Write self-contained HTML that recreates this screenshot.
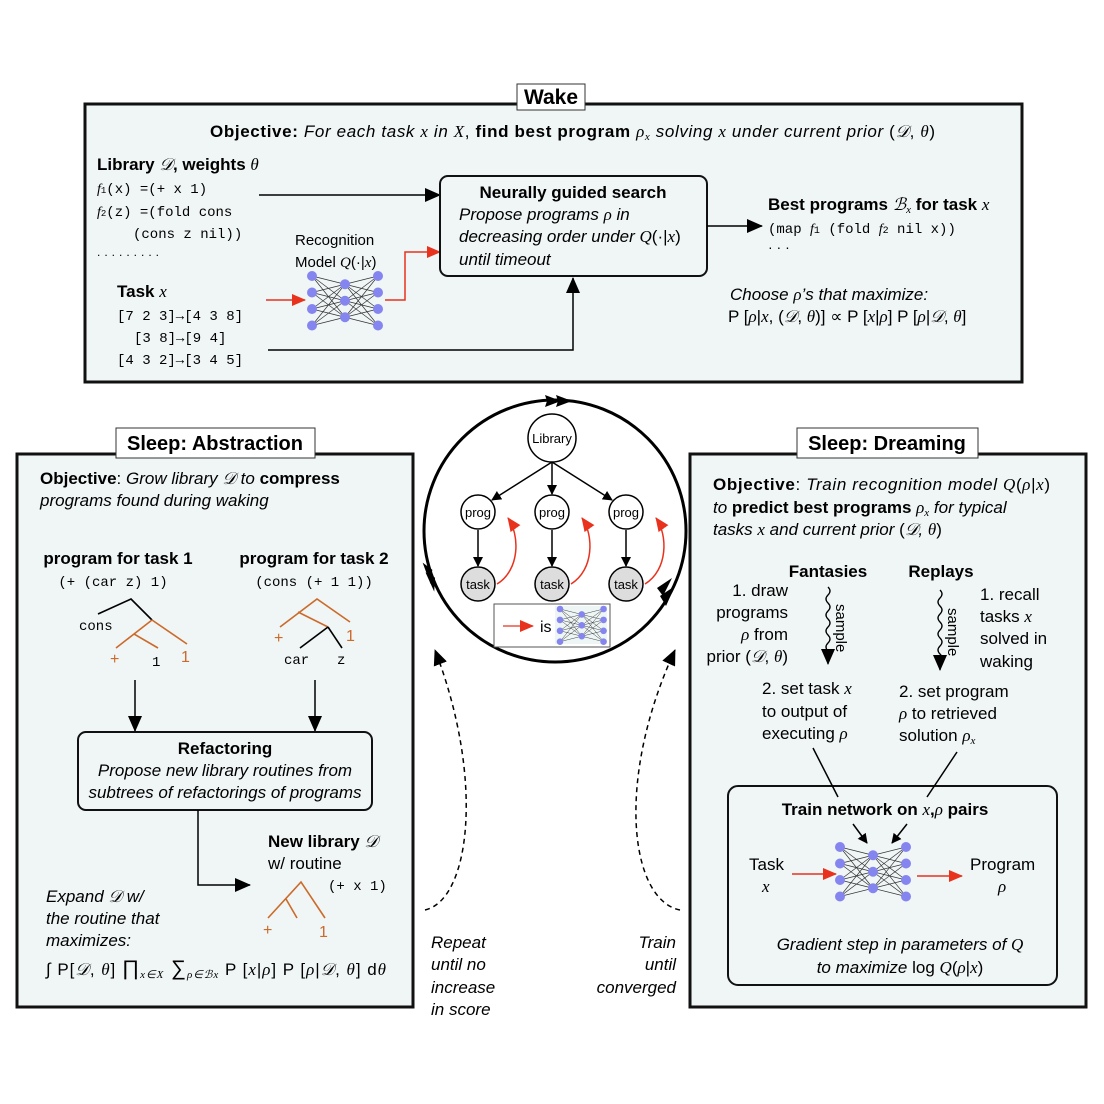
<!DOCTYPE html>
<html><head><meta charset="utf-8"><style>
html,body{margin:0;padding:0;background:#fff;}
svg{display:block;font-family:"Liberation Sans","DejaVu Sans",sans-serif;}
.m{font-family:"Liberation Mono",monospace;font-size:14px;}
.b{font-weight:bold;}
.i{font-style:italic;}
.s{font-family:"Liberation Serif",serif;font-style:italic;}
.o{fill:#cc6a2a;}
</style></head><body>
<svg width="1104" height="1104" viewBox="0 0 1104 1104" xmlns="http://www.w3.org/2000/svg">
<defs>
<marker id="ah" markerWidth="10" markerHeight="10" refX="9" refY="5" orient="auto" markerUnits="userSpaceOnUse"><path d="M0,0 L10,5 L0,10 z" fill="#000"/></marker>
<marker id="ahb" markerWidth="16" markerHeight="14" refX="15" refY="7" orient="auto" markerUnits="userSpaceOnUse"><path d="M0,0 L16,7 L0,14 z" fill="#000"/></marker>
<marker id="ar" markerWidth="14" markerHeight="12" refX="13" refY="6" orient="auto" markerUnits="userSpaceOnUse"><path d="M0,0 L14,6 L0,12 z" fill="#e8321e"/></marker>
<g id="nn">
<g stroke="#333" stroke-width="0.7">
<line x1="0" y1="0" x2="33" y2="8.25"/><line x1="0" y1="0" x2="33" y2="24.75"/><line x1="0" y1="0" x2="33" y2="41.25"/>
<line x1="0" y1="16.5" x2="33" y2="8.25"/><line x1="0" y1="16.5" x2="33" y2="24.75"/><line x1="0" y1="16.5" x2="33" y2="41.25"/>
<line x1="0" y1="33" x2="33" y2="8.25"/><line x1="0" y1="33" x2="33" y2="24.75"/><line x1="0" y1="33" x2="33" y2="41.25"/>
<line x1="0" y1="49.5" x2="33" y2="8.25"/><line x1="0" y1="49.5" x2="33" y2="24.75"/><line x1="0" y1="49.5" x2="33" y2="41.25"/>
<line x1="66" y1="0" x2="33" y2="8.25"/><line x1="66" y1="0" x2="33" y2="24.75"/><line x1="66" y1="0" x2="33" y2="41.25"/>
<line x1="66" y1="16.5" x2="33" y2="8.25"/><line x1="66" y1="16.5" x2="33" y2="24.75"/><line x1="66" y1="16.5" x2="33" y2="41.25"/>
<line x1="66" y1="33" x2="33" y2="8.25"/><line x1="66" y1="33" x2="33" y2="24.75"/><line x1="66" y1="33" x2="33" y2="41.25"/>
<line x1="66" y1="49.5" x2="33" y2="8.25"/><line x1="66" y1="49.5" x2="33" y2="24.75"/><line x1="66" y1="49.5" x2="33" y2="41.25"/>
</g>
<g fill="#8585f0">
<circle cx="0" cy="0" r="5"/><circle cx="0" cy="16.5" r="5"/><circle cx="0" cy="33" r="5"/><circle cx="0" cy="49.5" r="5"/>
<circle cx="33" cy="8.25" r="5"/><circle cx="33" cy="24.75" r="5"/><circle cx="33" cy="41.25" r="5"/>
<circle cx="66" cy="0" r="5"/><circle cx="66" cy="16.5" r="5"/><circle cx="66" cy="33" r="5"/><circle cx="66" cy="49.5" r="5"/>
</g>
</g>
</defs>

<rect x="85" y="104" width="937" height="278" fill="#f0f5f5" stroke="#111" stroke-width="3"/>
<rect x="17" y="454" width="396" height="553" fill="#f0f5f5" stroke="#111" stroke-width="3"/>
<rect x="690" y="454" width="396" height="553" fill="#f0f5f5" stroke="#111" stroke-width="3"/>

<rect x="517" y="84" width="68" height="26" fill="#fff" stroke="#333" stroke-width="1"/>
<text x="551" y="104" font-size="21" class="b" text-anchor="middle">Wake</text>
<rect x="116" y="428" width="199" height="30" fill="#fff" stroke="#333" stroke-width="1"/>
<text x="215" y="450" font-size="20" class="b" text-anchor="middle">Sleep:  Abstraction</text>
<rect x="797" y="428" width="181" height="30" fill="#fff" stroke="#333" stroke-width="1"/>
<text x="887" y="450" font-size="20" class="b" text-anchor="middle">Sleep:  Dreaming</text>

<!-- WAKE -->
<text x="210" y="137" font-size="17" textLength="725" lengthAdjust="spacing"><tspan class="b">Objective:</tspan><tspan class="i"> For each task </tspan><tspan class="s">x</tspan><tspan class="i"> in </tspan><tspan class="s">X</tspan>, <tspan class="b">find best program</tspan> <tspan class="s">ρ</tspan><tspan class="s" font-size="11" dy="3">x</tspan><tspan dy="-3" class="i"> solving </tspan><tspan class="s">x</tspan><tspan class="i"> under current prior </tspan>(<tspan class="s">𝒟</tspan>, <tspan class="s">θ</tspan>)</text>
<text x="97" y="170" font-size="17"><tspan class="b">Library </tspan><tspan class="s">𝒟</tspan><tspan class="b">, weights </tspan><tspan class="s">θ</tspan></text>
<text x="97" y="193" class="m"><tspan class="s">f</tspan><tspan font-size="9">1</tspan>(x) =(+ x 1)</text>
<text x="97" y="216" class="m"><tspan class="s">f</tspan><tspan font-size="9">2</tspan>(z) =(fold cons</text>
<text x="133" y="238" class="m">(cons z nil))</text>
<text x="97" y="256" font-size="12" letter-spacing="4">.........</text>
<text x="117" y="297" font-size="17"><tspan class="b">Task </tspan><tspan class="s">x</tspan></text>
<text x="117" y="320" class="m">[7 2 3]→[4 3 8]</text>
<text x="134" y="342" class="m">[3 8]→[9 4]</text>
<text x="117" y="364" class="m">[4 3 2]→[3 4 5]</text>
<text x="295" y="245" font-size="15">Recognition</text>
<text x="295" y="267" font-size="15">Model <tspan class="s">Q</tspan>(·|<tspan class="s">x</tspan>)</text>
<use href="#nn" x="312" y="276"/>
<line x1="259" y1="195" x2="440" y2="195" stroke="#000" stroke-width="1.5" marker-end="url(#ahb)"/>
<line x1="266" y1="300" x2="305" y2="300" stroke="#e8321e" stroke-width="1.5" marker-end="url(#ar)"/>
<polyline points="385,300 405,300 405,252 440,252" fill="none" stroke="#e8321e" stroke-width="1.5" marker-end="url(#ar)"/>
<polyline points="268,350 573,350 573,278" fill="none" stroke="#000" stroke-width="1.5" marker-end="url(#ahb)"/>
<rect x="440" y="176" width="267" height="100" rx="8" fill="#f0f5f5" stroke="#111" stroke-width="2"/>
<text x="573" y="198" font-size="17" class="b" text-anchor="middle">Neurally guided search</text>
<text x="459" y="220" font-size="17" class="i">Propose programs <tspan class="s">ρ</tspan> in</text>
<text x="459" y="242" font-size="17" class="i">decreasing order under <tspan class="s">Q</tspan><tspan font-style="normal">(·|</tspan><tspan class="s">x</tspan><tspan font-style="normal">)</tspan></text>
<text x="459" y="265" font-size="17" class="i">until timeout</text>
<line x1="707" y1="226" x2="762" y2="226" stroke="#000" stroke-width="1.5" marker-end="url(#ahb)"/>
<text x="768" y="210" font-size="17"><tspan class="b">Best programs </tspan><tspan class="s">ℬ</tspan><tspan class="s" font-size="11" dy="3">x</tspan><tspan dy="-3" class="b"> for task </tspan><tspan class="s">x</tspan></text>
<text x="768" y="233" class="m" font-size="16">(map <tspan class="s">f</tspan><tspan font-size="10">1</tspan> (fold <tspan class="s">f</tspan><tspan font-size="10">2</tspan> nil x))</text>
<text x="768" y="252" font-size="14">· · ·</text>
<text x="730" y="300" font-size="17" class="i">Choose <tspan class="s">ρ</tspan>’s that maximize:</text>
<text x="728" y="322" font-size="17">P [<tspan class="s">ρ</tspan>|<tspan class="s">x</tspan>, (<tspan class="s">𝒟</tspan>, <tspan class="s">θ</tspan>)] ∝ P [<tspan class="s">x</tspan>|<tspan class="s">ρ</tspan>] P [<tspan class="s">ρ</tspan>|<tspan class="s">𝒟</tspan>, <tspan class="s">θ</tspan>]</text>

<!-- ABSTRACTION -->
<text x="40" y="484" font-size="17"><tspan class="b">Objective</tspan>: <tspan class="i">Grow library </tspan><tspan class="s">𝒟</tspan><tspan class="i"> to </tspan><tspan class="b">compress</tspan></text>
<text x="40" y="506" font-size="17" class="i">programs found during waking</text>
<text x="118" y="564" font-size="17" class="b" text-anchor="middle">program for task 1</text>
<text x="113" y="586" class="m" font-size="16" text-anchor="middle">(+ (car z) 1)</text>
<text x="314" y="564" font-size="17" class="b" text-anchor="middle">program for task 2</text>
<text x="314" y="586" class="m" font-size="16" text-anchor="middle">(cons (+ 1 1))</text>
<g stroke-width="1.6" fill="none">
<polyline points="98,614 131,599 152,620" stroke="#000"/>
<line x1="152" y1="620" x2="187" y2="644" stroke="#cc6a2a"/>
<line x1="152" y1="620" x2="116" y2="648" stroke="#cc6a2a"/>
<line x1="134" y1="634" x2="158" y2="648" stroke="#cc6a2a"/>
<polyline points="280,627 317,599 350,622" stroke="#cc6a2a"/>
<line x1="298" y1="612" x2="328" y2="627" stroke="#cc6a2a"/>
<line x1="328" y1="627" x2="300" y2="648" stroke="#000"/>
<line x1="328" y1="627" x2="342" y2="648" stroke="#000"/>
<polyline points="268,918 301,882 325,918" stroke="#cc6a2a"/>
<line x1="286" y1="899" x2="297" y2="918" stroke="#cc6a2a"/>
</g>
<text x="79" y="630" class="m" font-size="16">cons</text>
<text x="110" y="664" font-size="16" class="o">+</text>
<text x="152" y="666" class="m" font-size="16">1</text>
<text x="181" y="662" font-size="16" class="o">1</text>
<text x="274" y="643" font-size="16" class="o">+</text>
<text x="346" y="641" font-size="16" class="o">1</text>
<text x="284" y="664" class="m" font-size="16">car</text>
<text x="337" y="664" class="m" font-size="16">z</text>
<line x1="135" y1="680" x2="135" y2="731" stroke="#000" stroke-width="1.5" marker-end="url(#ahb)"/>
<line x1="315" y1="680" x2="315" y2="731" stroke="#000" stroke-width="1.5" marker-end="url(#ahb)"/>
<rect x="78" y="732" width="294" height="78" rx="8" fill="#f0f5f5" stroke="#111" stroke-width="2"/>
<text x="225" y="754" font-size="17" class="b" text-anchor="middle">Refactoring</text>
<text x="225" y="776" font-size="17" class="i" text-anchor="middle">Propose new library routines from</text>
<text x="225" y="798" font-size="17" class="i" text-anchor="middle">subtrees of refactorings of programs</text>
<polyline points="198,810 198,885 250,885" fill="none" stroke="#000" stroke-width="1.5" marker-end="url(#ahb)"/>
<text x="268" y="847" font-size="17"><tspan class="b">New library </tspan><tspan class="s">𝒟</tspan></text>
<text x="268" y="869" font-size="17">w/ routine</text>
<text x="328" y="890" class="m" font-size="15">(+ x 1)</text>
<text x="263" y="935" font-size="16" class="o">+</text>
<text x="319" y="937" font-size="16" class="o">1</text>
<text x="46" y="902" font-size="17" class="i">Expand <tspan class="s">𝒟</tspan> w/</text>
<text x="46" y="924" font-size="17" class="i">the routine that</text>
<text x="46" y="946" font-size="17" class="i">maximizes:</text>
<text x="46" y="975" font-size="17" textLength="340" lengthAdjust="spacing">∫ P[<tspan class="s">𝒟</tspan>, <tspan class="s">θ</tspan>] <tspan font-size="21">∏</tspan><tspan class="s" font-size="11" dy="3">x∈X</tspan><tspan dy="-3" font-size="21"> ∑</tspan><tspan class="s" font-size="11" dy="3">ρ∈ℬx</tspan><tspan dy="-3"> P [</tspan><tspan class="s">x</tspan>|<tspan class="s">ρ</tspan>] P [<tspan class="s">ρ</tspan>|<tspan class="s">𝒟</tspan>, <tspan class="s">θ</tspan>]  d<tspan class="s">θ</tspan></text>

<!-- CENTER -->
<circle cx="555" cy="531" r="131" fill="#fff" stroke="#000" stroke-width="3"/>
<path d="M572,401 L556,395 L558,401 L556,407 z M561,401 L545,395 L547,401 L545,407 z" fill="#000"/>
<path d="M424,562 L430,584 L433,570 z M426,572 L433,592 L435,578 z" fill="#000" transform="rotate(-5 430 578)"/>
<path d="M666,606 L675,586 L660,596 z M663,596 L672,578 L657,588 z" fill="#000"/>
<circle cx="552" cy="438" r="24" fill="#fff" stroke="#000" stroke-width="1.5"/>
<text x="552" y="443" font-size="13" text-anchor="middle">Library</text>
<g stroke="#000" stroke-width="1.5">
<line x1="552" y1="462" x2="492" y2="500" marker-end="url(#ah)"/>
<line x1="552" y1="462" x2="552" y2="494" marker-end="url(#ah)"/>
<line x1="552" y1="462" x2="612" y2="500" marker-end="url(#ah)"/>
<line x1="478" y1="530" x2="478" y2="566" marker-end="url(#ah)"/>
<line x1="552" y1="530" x2="552" y2="566" marker-end="url(#ah)"/>
<line x1="626" y1="530" x2="626" y2="566" marker-end="url(#ah)"/>
</g>
<g font-size="13" text-anchor="middle">
<circle cx="478" cy="512" r="17" fill="#fff" stroke="#000" stroke-width="1.5"/><text x="478" y="517">prog</text>
<circle cx="552" cy="512" r="17" fill="#fff" stroke="#000" stroke-width="1.5"/><text x="552" y="517">prog</text>
<circle cx="626" cy="512" r="17" fill="#fff" stroke="#000" stroke-width="1.5"/><text x="626" y="517">prog</text>
<circle cx="478" cy="584" r="17" fill="#ddd" stroke="#000" stroke-width="1.5"/><text x="478" y="589">task</text>
<circle cx="552" cy="584" r="17" fill="#ddd" stroke="#000" stroke-width="1.5"/><text x="552" y="589">task</text>
<circle cx="626" cy="584" r="17" fill="#ddd" stroke="#000" stroke-width="1.5"/><text x="626" y="589">task</text>
</g>
<g fill="none" stroke="#e8321e" stroke-width="1.5">
<path d="M497,584 C520,570 520,535 508,518" marker-end="url(#ar)"/>
<path d="M571,584 C594,570 594,535 582,518" marker-end="url(#ar)"/>
<path d="M645,584 C668,570 668,535 656,518" marker-end="url(#ar)"/>
</g>
<rect x="494" y="604" width="116" height="43" fill="#fff" stroke="#555" stroke-width="1"/>
<rect x="555" y="606" width="52" height="38" fill="#eef5f5"/>
<line x1="503" y1="626" x2="533" y2="626" stroke="#e8321e" stroke-width="1.2" marker-end="url(#ar)"/>
<text x="540" y="632" font-size="16">is</text>
<use href="#nn" transform="translate(560,609) scale(0.66)"/>

<path d="M425,910 C470,900 485,780 435,650" fill="none" stroke="#000" stroke-width="1.5" stroke-dasharray="5,4" marker-end="url(#ahb)"/>
<path d="M680,910 C630,900 615,780 675,650" fill="none" stroke="#000" stroke-width="1.5" stroke-dasharray="5,4" marker-end="url(#ahb)"/>
<g font-size="17" class="i">
<text x="431" y="948">Repeat</text><text x="431" y="970">until no</text><text x="431" y="993">increase</text><text x="431" y="1015">in score</text>
<text x="676" y="948" text-anchor="end">Train</text><text x="676" y="970" text-anchor="end">until</text><text x="676" y="993" text-anchor="end">converged</text>
</g>

<!-- DREAMING -->
<text x="713" y="490" font-size="17" textLength="337" lengthAdjust="spacing"><tspan class="b">Objective</tspan>: <tspan class="i">Train recognition model </tspan><tspan class="s">Q</tspan>(<tspan class="s">ρ</tspan>|<tspan class="s">x</tspan>)</text>
<text x="713" y="513" font-size="17"><tspan class="i">to </tspan><tspan class="b">predict best programs </tspan><tspan class="s">ρ</tspan><tspan class="s" font-size="11" dy="3">x</tspan><tspan dy="-3" class="i"> for typical</tspan></text>
<text x="713" y="535" font-size="17" class="i">tasks <tspan class="s">x</tspan> and current prior <tspan font-style="normal">(</tspan><tspan class="s">𝒟</tspan>, <tspan class="s">θ</tspan><tspan font-style="normal">)</tspan></text>
<text x="828" y="577" font-size="17" class="b" text-anchor="middle">Fantasies</text>
<text x="941" y="577" font-size="17" class="b" text-anchor="middle">Replays</text>
<g font-size="17" text-anchor="end">
<text x="788" y="596">1. draw</text><text x="788" y="618">programs</text><text x="788" y="640"><tspan class="s">ρ</tspan> from</text><text x="788" y="662">prior (<tspan class="s">𝒟</tspan>, <tspan class="s">θ</tspan>)</text>
</g>
<g font-size="17">
<text x="980" y="600">1. recall</text><text x="980" y="622">tasks <tspan class="s">x</tspan></text><text x="980" y="644">solved in</text><text x="980" y="667">waking</text>
<text x="762" y="694">2. set task <tspan class="s">x</tspan></text><text x="762" y="717">to output of</text><text x="762" y="739">executing <tspan class="s">ρ</tspan></text>
<text x="899" y="697">2. set program</text><text x="899" y="719"><tspan class="s">ρ</tspan> to retrieved</text><text x="899" y="741">solution <tspan class="s">ρ</tspan><tspan class="s" font-size="11" dy="3">x</tspan></text>
</g>
<path d="M828,587 q4,4 0,8 t0,8 t0,8 t0,8 t0,8 t0,8 t0,8 t0,8 t0,8 l0,5" fill="none" stroke="#000" stroke-width="1.3" marker-end="url(#ahb)"/>
<path d="M940,590 q4,4 0,8 t0,8 t0,8 t0,8 t0,8 t0,8 t0,8 t0,8 t0,8 l0,8" fill="none" stroke="#000" stroke-width="1.3" marker-end="url(#ahb)"/>
<text x="0" y="0" font-size="15" transform="translate(836,604) rotate(90)">sample</text>
<text x="0" y="0" font-size="15" transform="translate(948,608) rotate(90)">sample</text>
<rect x="728" y="786" width="329" height="199" rx="10" fill="#f0f5f5" stroke="#111" stroke-width="2"/>
<line x1="813" y1="748" x2="838" y2="797" stroke="#000" stroke-width="1.5"/>
<line x1="957" y1="752" x2="927" y2="797" stroke="#000" stroke-width="1.5"/>
<text x="885" y="815" font-size="17" text-anchor="middle"><tspan class="b">Train network on </tspan><tspan class="s">x</tspan><tspan class="b">,</tspan><tspan class="s">ρ</tspan><tspan class="b"> pairs</tspan></text>
<line x1="853" y1="824" x2="867" y2="843" stroke="#000" stroke-width="1.5" marker-end="url(#ah)"/>
<line x1="907" y1="824" x2="892" y2="843" stroke="#000" stroke-width="1.5" marker-end="url(#ah)"/>
<use href="#nn" x="840" y="847"/>
<text x="749" y="870" font-size="17">Task</text>
<text x="762" y="892" font-size="17" class="s">x</text>
<line x1="792" y1="874" x2="836" y2="874" stroke="#e8321e" stroke-width="1.5" marker-end="url(#ar)"/>
<line x1="917" y1="876" x2="962" y2="876" stroke="#e8321e" stroke-width="1.5" marker-end="url(#ar)"/>
<text x="970" y="870" font-size="17">Program</text>
<text x="998" y="892" font-size="17" class="s">ρ</text>
<text x="900" y="950" font-size="17" class="i" text-anchor="middle">Gradient step in parameters of <tspan class="s">Q</tspan></text>
<text x="900" y="973" font-size="17" class="i" text-anchor="middle">to maximize <tspan font-style="normal">log </tspan><tspan class="s">Q</tspan><tspan font-style="normal">(</tspan><tspan class="s">ρ</tspan><tspan font-style="normal">|</tspan><tspan class="s">x</tspan><tspan font-style="normal">)</tspan></text>
</svg>
</body></html>
